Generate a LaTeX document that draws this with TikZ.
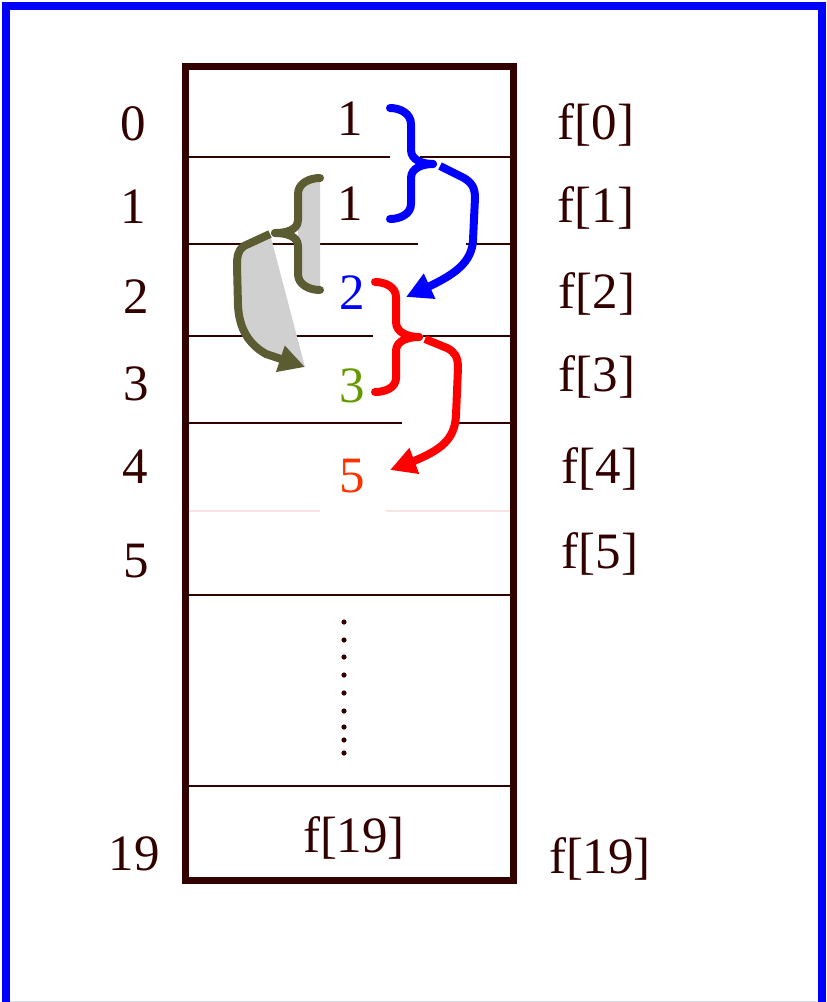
\documentclass[tikz,border=0pt]{standalone}
\usepackage{fontspec}
\setmainfont{Liberation Serif}
\usetikzlibrary{arrows.meta}
\definecolor{ink}{HTML}{330000}
\definecolor{frameblue}{HTML}{0000FF}
\definecolor{olivebr}{HTML}{5C5C33}
\definecolor{greyfill}{HTML}{D0D0D0}
\definecolor{numgreen}{HTML}{669900}
\definecolor{numorange}{HTML}{FF3300}
\definecolor{palerule}{HTML}{F8E2E2}
\begin{document}
\begin{tikzpicture}[x=1pt,y=-1pt,
  lbl/.style={font=\fontsize{51}{60}\selectfont, text=ink, inner sep=0pt, anchor=base},
  rowrule/.style={draw=ink, line width=2pt},
  bracestroke/.style={line width=8pt, line cap=round, line join=round},
  arrowstroke/.style={line width=8pt, line join=round},
  bigtip/.style={-{Triangle[length=26pt,width=26pt]}}]
  \useasboundingbox (0,0) rectangle (827,1002);

  % outer frame: blue on three sides, faint rule at the bottom
  \draw[frameblue, line width=8pt] (6,1002) -- (6,6) -- (822,6) -- (822,1002);
  \draw[draw={rgb,255:red,216;green,216;blue,240}, line width=1pt] (10,1001.5) -- (818,1001.5);

  % row separators of the array
  \draw[rowrule] (188,157) -- (390,157) (420,157) -- (510,157);
  \draw[rowrule] (188,244) -- (418,244) (466,244) -- (510,244);
  \draw[rowrule] (188,336) -- (373,336) (423,336) -- (510,336);
  \draw[rowrule] (188,423) -- (402,423) (457,423) -- (510,423);
  \draw[draw=palerule, line width=2pt] (184,511) -- (320,511) (386,511) -- (510,511);
  \draw[rowrule] (188,595) -- (510,595);
  \draw[rowrule] (188,786) -- (510,786);

  % array box
  \draw[ink, line width=7pt] (185,66.5) rectangle (513.5,880.5);

  % index labels
  \node[lbl] (i0) at (133,140) {0};
  \node[lbl] (i1) at (133,223) {1};
  \node[lbl] (i2) at (136,313) {2};
  \node[lbl] (i3) at (136,400) {3};
  \node[lbl] (i4) at (135,483) {4};
  \node[lbl] (i5) at (136,577) {5};
  \node[lbl] (i19) at (134,870) {19};

  % element names
  \node[lbl] (f0) at (596,139) {f[0]};
  \node[lbl] (f1) at (596,222) {f[1]};
  \node[lbl] (f2) at (597,308) {f[2]};
  \node[lbl] (f3) at (597,391) {f[3]};
  \node[lbl] (f4) at (600,483) {f[4]};
  \node[lbl] (f5) at (600,568) {f[5]};
  \node[lbl] (f19) at (600,873) {f[19]};

  % cell contents
  \node[lbl] (v0) at (350,135) {1};
  \node[lbl] (v1) at (350,220) {1};
  \node[lbl, text=blue] (v2) at (352,309) {2};
  \node[lbl, text=numgreen] (v3) at (352,402) {3};
  \node[lbl, text=numorange] (v4) at (352,492) {5};
  \node[lbl] (v19) at (354,852) {f[19]};

  % vertical ellipsis
  \foreach \yy in {622,640,657,675,693,711,727,740,753}
    \fill[ink] (344,\yy) circle (2.6pt);

  % f[3] = f[1] + f[2]  (grey shaded brace and arrow)
  \coordinate (gt) at (270,234);
  \coordinate (gh) at (305,367);
  \fill[greyfill] (320,178) to[out=180,in=90] (298,194) -- (298,274) to[out=-90,in=180] (320,290) -- cycle;
  \fill[greyfill] (gt) -- (244,246) .. controls (238,250) and (237,256) .. (237,266)
     -- (238,305) .. controls (239,330) and (250,345) .. (266,354) -- (gh) -- cycle;
  \draw[olivebr, bracestroke] (320,178) to[out=180,in=90] (298,194) -- (298,220)
     to[out=-90,in=0] (275,233);
  \draw[olivebr, bracestroke] (275,233) to[out=0,in=90] (298,246) -- (298,274)
     to[out=-90,in=180] (320,290);
  \draw[olivebr, arrowstroke, bigtip] (gt) -- (244,246)
     .. controls (238,250) and (237,256) .. (237,266) -- (238,305)
     .. controls (239,330) and (250,345) .. (266,354) -- (gh);

  % f[2] = f[0] + f[1]  (blue)
  \coordinate (bt) at (440,166);
  \coordinate (bh) at (406,297);
  \draw[blue, bracestroke] (390,108) to[out=0,in=90] (411,124) -- (411,150)
     to[out=-90,in=180] (433,164);
  \draw[blue, bracestroke] (433,164) to[out=180,in=90] (411,178) -- (411,204)
     to[out=-90,in=0] (390,219);
  \draw[blue, arrowstroke, bigtip] (bt) -- (464,178)
     .. controls (472,183) and (475,188) .. (475,198) -- (473,240)
     .. controls (472,262) and (455,274) .. (430,286) -- (bh);

  % f[4] = f[2] + f[3]  (red)
  \coordinate (rt) at (425,339);
  \coordinate (rh) at (390,470);
  \draw[red, bracestroke] (375,282) to[out=0,in=90] (396,297) -- (396,322)
     to[out=-90,in=180] (419,337);
  \draw[red, bracestroke] (419,337) to[out=180,in=90] (396,351) -- (396,378)
     to[out=-90,in=0] (375,392);
  \draw[red, arrowstroke, bigtip] (rt) -- (447,348)
     .. controls (455,352) and (458,357) .. (458,368) -- (456,415)
     .. controls (455,440) and (440,450) .. (414,461) -- (rh);
\end{tikzpicture}
\end{document}
